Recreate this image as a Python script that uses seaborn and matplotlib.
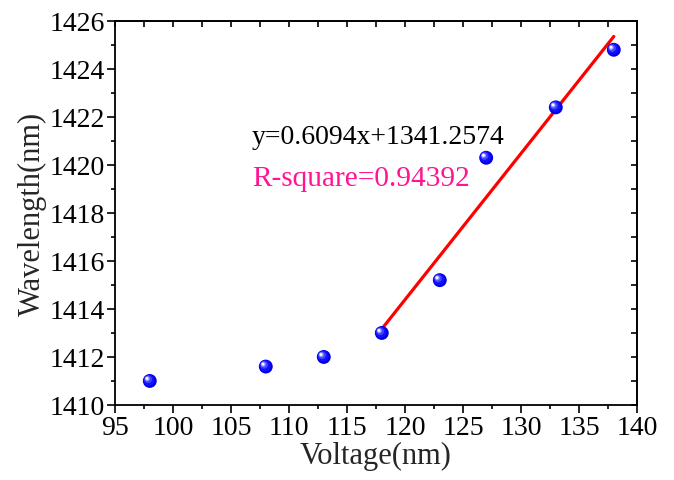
import numpy as np
import pandas as pd
import matplotlib
matplotlib.use("Agg")
import matplotlib.pyplot as plt
import matplotlib.transforms as mtransforms
from matplotlib.ticker import MultipleLocator
import seaborn as sns

# ---- data ----
voltage = [98, 108, 113, 118, 123, 127, 133, 138]
wavelength = [1411.0, 1411.6, 1412.0, 1413.0, 1415.2, 1420.3, 1422.4, 1424.8]
fit_slope = 0.6094
fit_intercept = 1341.2574
fit_x = [118, 138]
r_square = 0.94392
eq_text = "y=0.6094x+1341.2574"
r_text = "R-square=0.94392"
xlabel = "Voltage(nm)"
ylabel = "Wavelength(nm)"

sns.set_theme(style="white")
plt.rcParams["font.family"] = ["Liberation Serif", "DejaVu Serif"]
plt.rcParams["mathtext.fontset"] = "stix"

fig = plt.figure(figsize=(6.74, 4.81), dpi=100)
ax = fig.add_axes([0.1706, 0.156, 0.9451 - 0.1706, 0.9543 - 0.156])

df = pd.DataFrame({"Voltage": voltage, "Wavelength": wavelength})

# fit line
fx = np.array(fit_x, dtype=float)
fit_df = pd.DataFrame({"Voltage": fx, "Wavelength": fit_slope * fx + fit_intercept})
sns.lineplot(data=fit_df, x="Voltage", y="Wavelength", ax=ax, color="#FF0000",
             linewidth=2.3, zorder=2)

# sphere-like markers: base + highlights
sns.scatterplot(data=df, x="Voltage", y="Wavelength", ax=ax, s=100,
                color="#0000E6", edgecolor="none", linewidth=0, zorder=3)
layers = [
    (-0.6, 0.6, 64, "#1010FF"),
    (-1.2, 1.2, 30, "#4545FF"),
    (-1.8, 1.6, 12, "#9A9AFF"),
    (-2.0, 1.8, 4, "#FFFFFF"),
]
for dx, dy, s, c in layers:
    tr = mtransforms.offset_copy(ax.transData, fig=fig, x=dx, y=dy, units="points")
    ax.scatter(voltage, wavelength, s=s, color=c, edgecolor="none",
               linewidth=0, zorder=4, transform=tr)

ax.set_xlim(95, 140)
ax.set_ylim(1410, 1426)
ax.xaxis.set_major_locator(MultipleLocator(5))
ax.xaxis.set_minor_locator(MultipleLocator(2.5))
ax.yaxis.set_major_locator(MultipleLocator(2))
ax.yaxis.set_minor_locator(MultipleLocator(1))

ax.set_xlabel(xlabel, fontsize=22, labelpad=1)
ax.set_ylabel(ylabel, fontsize=22, labelpad=2)

for sp in ax.spines.values():
    sp.set_visible(True)
    sp.set_color("black")
    sp.set_linewidth(1.3)

ax.tick_params(axis="both", which="major", direction="out", length=5.5, width=1.2,
               labelsize=20, color="black", labelcolor="black", pad=1.5,
               bottom=True, left=True, top=False, right=False)
ax.tick_params(axis="both", which="minor", direction="out", length=3, width=1.2,
               color="black", bottom=True, left=True, top=False, right=False)

# inward ticks on top and right
secx = ax.secondary_xaxis("top")
secx.xaxis.set_major_locator(MultipleLocator(2.5))
secx.tick_params(direction="in", length=4, width=1.2, labeltop=False, color="black")
secx.spines["top"].set_linewidth(1.3)
secy = ax.secondary_yaxis("right")
secy.yaxis.set_major_locator(MultipleLocator(1))
secy.tick_params(direction="in", length=4, width=1.2, labelright=False, color="black")
secy.spines["right"].set_linewidth(1.3)

ax.text(106.8, 1421.2, eq_text, fontsize=20, color="black", va="center", ha="left")
ax.text(106.8, 1419.45, r_text, fontsize=21.2, color="#FF1493", va="center", ha="left")

fig.savefig("out.png", dpi=100)
